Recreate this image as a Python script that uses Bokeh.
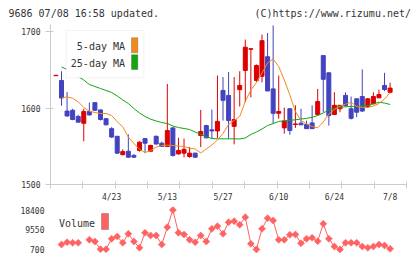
import math
from bokeh.plotting import figure
from bokeh.layouts import column
from bokeh.models import ColumnDataSource, FixedTicker, Range1d, Label, BoxAnnotation
from bokeh.core.properties import value
from bokeh.embed import file_html
from bokeh.resources import INLINE

nan = float("nan")

# ---------------- data ----------------
# trading-day slots; slot -1 is the carried-over session at the left edge
session = list(range(-1, 60))
date_ticks = [9, 19, 29, 39, 49, 59]
date_labels = ["4/23", "5/13", "5/27", "6/10", "6/24", "7/8"]
price_ticks = [1500, 1600, 1700]
volume_ticks = [700, 9550, 18400]

open_ = [1642.2,
         1636, 1596, 1597, 1589, 1580, 1595.5, 1607, 1597.5, 1586, 1573,
         1563, 1539, 1543.5, 1538, 1544.5, 1560, 1543.5, 1563, 1554, 1549.7,
         1574, 1540, 1541, 1536.6, 1541, 1564, 1577, 1571.5, 1570, 1623,
         1616.5, 1576, 1624, 1649, 1676.8, 1636, 1641.5, 1667, 1625, 1593,
         1574, 1599, 1578.4, 1580.2, 1578.5, 1580.5, 1591.5, 1668.5, 1646, 1591.5,
         1599, 1616.5, 1599, 1612, 1615, 1602, 1605.5, 1613.3, 1629.5, 1620.5]
high = [1642.8,
        1648, 1621, 1599, 1591, 1599, 1607, 1607.5, 1598, 1586.5, 1575,
        1563.5, 1546, 1565.5, 1540, 1556.5, 1560.5, 1552, 1564, 1556, 1631.5,
        1575, 1561, 1560, 1549, 1541.5, 1597.5, 1578, 1598, 1642.5, 1640.5,
        1647, 1640.5, 1648, 1689.5, 1677.6, 1657, 1696, 1698, 1708, 1642.5,
        1600.5, 1599.5, 1603.5, 1599, 1583.5, 1603.5, 1625, 1669, 1646.5, 1620.5,
        1603.8, 1620.5, 1615, 1612.5, 1650.5, 1613, 1620.5, 1624, 1646, 1633]
low = [1642.2,
       1603, 1589, 1584, 1581, 1556.5, 1590, 1596, 1583.5, 1577.5, 1561,
       1540.5, 1538, 1535, 1535, 1543, 1541, 1543, 1552, 1549, 1549,
       1536.5, 1539, 1535.5, 1535, 1535, 1549, 1560.5, 1560, 1560.5, 1583.5,
       1560, 1552.5, 1602, 1607.5, 1614, 1634, 1633.5, 1622, 1579.5, 1586,
       1566.5, 1565, 1574, 1577.8, 1572.5, 1572.5, 1590, 1594.5, 1577, 1591,
       1594.5, 1602, 1585, 1588, 1595, 1600, 1605, 1613, 1622, 1619.5]
close = [1642.8,
         1613, 1589.5, 1585, 1581.5, 1595.5, 1591, 1597, 1585, 1578, 1562,
         1541, 1543, 1535.7, 1535.7, 1555.3, 1554, 1551, 1553, 1549.7, 1570.5,
         1538, 1544.5, 1546, 1541, 1535.7, 1569.3, 1561, 1570, 1582.5, 1610,
         1583.5, 1585, 1629.5, 1679.5, 1677.5, 1655.5, 1688, 1622.3, 1593, 1595.5,
         1583, 1570.5, 1579.2, 1578, 1573, 1573, 1608.5, 1637.5, 1590, 1603.5,
         1603.5, 1603.3, 1586.5, 1594.5, 1596, 1612, 1615, 1617.5, 1624.2, 1626]
volume = [nan,
          2930, 3950, 3690, 3690, nan, 5020, 4270, 830, 830, 5470,
          6500, 3690, 7700, 4270, 1460, 8150, 6940, 6940, 2930, 10640,
          18300, 8150, 7390, 5020, 3950, 6940, 4270, 9930, 11090, 7700,
          12870, 13320, 11710, 15100, 3240, 750, 9930, 14650, 13630, 5020,
          5020, 7250, 7390, 3510, 5470, 5920, 4400, 12160, 5470, 2040,
          750, 3690, 3690, 3690, 2040, 1460, 2040, 2930, 2480, 1010]
ma5 = [nan,
       1613.1, 1614.6, 1612.7, 1608.1, 1600.7, 1595.8, 1594.1, 1592.8, 1592.8, 1590.2,
       1582.1, 1575.4, 1561.8, 1553.6, 1546.0, 1541.8, 1544.4, 1549.0, 1550.7, 1551.4,
       1551.0, 1550.1, 1549.7, 1547.5, 1546.4, 1541.2, 1546.4, 1551.6, 1558.2, 1566.7,
       1578.4, 1583.7, 1588.9, 1608.5, 1623.5, 1633.3, 1645.8, 1658.8, 1664.1, 1654.2,
       1636.6, 1617.0, 1595.4, 1583.7, 1579.1, 1575.8, 1574.1, 1581.6, 1592.2, 1598.0,
       1602.4, 1605.0, 1607.5, 1602.0, 1600.7, 1600.7, 1602.6, 1605.9, 1611.8, 1620.3]
ma25 = [nan,
        1653.6, 1650.3, 1645.8, 1641.2, 1636.6, 1630.7, 1628.1, 1625.5, 1622.9, 1620.3,
        1615.7, 1610.5, 1605.9, 1599.3, 1593.5, 1588.9, 1585.4, 1583.0, 1581.0, 1579.7,
        1576.5, 1574.5, 1573.2, 1571.9, 1568.6, 1565.4, 1562.4, 1560.1, 1559.7, 1559.7,
        1559.7, 1559.7, 1559.5, 1560.8, 1565.4, 1568.6, 1572.5, 1577.1, 1579.7, 1582.4,
        1583.3, 1583.9, 1584.6, 1585.5, 1586.5, 1587.8, 1590.2, 1593.5, 1597.4, 1599.6,
        1600.7, 1601.6, 1602.0, 1602.0, 1602.4, 1603.3, 1605.5, 1607.5, 1606.5, 1604.6]

# ---------------- style / geometry ----------------
FONT = "DejaVu Sans Mono"
TEXT = "#333333"
AXIS = "#cccccc"
UP = "#dd0000"
DOWN = "#4343c0"
MA5_COLOR = "#f08c1c"
MA25_COLOR = "#13a613"
VOL_COLOR = "#ff6262"

W = 420
HEAD_H, PRICE_H, VOL_H = 24, 182, 53
LEFT, RIGHT = 50, 14
PRICE_BOTTOM = 22
VOL_TOP, VOL_BOTTOM = 0, 5
STEP = 5.5695                       # pixels per trading day
X0 = -11 / STEP
X1 = X0 + (W - LEFT - RIGHT) / STEP
PX_PER_100 = 76.5                   # price panel: pixels per 100 yen
P0 = 1500
P1 = P0 + (PRICE_H - PRICE_BOTTOM) * 100 / PX_PER_100
PRICE_BASE_Y = HEAD_H + PRICE_H - PRICE_BOTTOM          # page row of the 1500 line
V_PER_PX = 17700 / 39.7
VOL_BASE_Y = HEAD_H + PRICE_H + VOL_H - VOL_BOTTOM      # page row of the volume frame bottom
V0 = 700 - (VOL_BASE_Y - 249) * V_PER_PX
V1 = V0 + (VOL_H - VOL_TOP - VOL_BOTTOM) * V_PER_PX


def at_x(px):
    """page column -> session coordinate"""
    return X0 + (px - LEFT) / STEP


def at_price(py):
    """page row -> price"""
    return P0 + (PRICE_BASE_Y - py) * 100 / PX_PER_100


def at_volume(py):
    """page row -> shares"""
    return V0 + (VOL_BASE_Y - py) * V_PER_PX


def bare(fig):
    fig.outline_line_color = None
    fig.grid.visible = False
    fig.background_fill_color = "white"
    fig.border_fill_color = "white"


x_range = Range1d(X0, X1)

# ---------------- header strip ----------------
h = figure(width=W, height=HEAD_H, x_range=Range1d(0, W), y_range=Range1d(HEAD_H, 0),
           output_backend="svg", toolbar_location=None, title=None,
           x_axis_location=None, y_axis_location=None, min_border=0)
h.frame_align = False
bare(h)
h.text(x=[8], y=[13], text=["9686 07/08 16:58 updated."], text_align="left",
       text_baseline="middle", text_font=value(FONT), text_font_size="10px", text_color=TEXT)
h.text(x=[410.5], y=[13], text=["(C)https://www.rizumu.net/"], text_align="right",
       text_baseline="middle", text_font=value(FONT), text_font_size="10px", text_color=TEXT)

# ---------------- price panel ----------------
candles = ColumnDataSource(dict(
    x=session, open=open_, high=high, low=low, close=close,
    top=[max(o, c) for o, c in zip(open_, close)],
    bottom=[min(o, c) for o, c in zip(open_, close)],
    color=[UP if c >= o else DOWN for o, c in zip(open_, close)],
))

p = figure(width=W, height=PRICE_H, x_range=x_range, y_range=Range1d(P0, P1),
           output_backend="svg", toolbar_location=None, title=None,
           min_border_left=LEFT, min_border_right=RIGHT,
           min_border_top=0, min_border_bottom=PRICE_BOTTOM)
bare(p)

p.segment(x0="x", y0="low", x1="x", y1="high", line_color="color", line_width=1, source=candles)
p.vbar(x="x", width=4 / STEP, top="top", bottom="bottom", fill_color="color",
       line_color="color", line_width=1, source=candles)
p.line(session, ma25, line_color=MA25_COLOR, line_width=1)
p.line(session, ma5, line_color=MA5_COLOR, line_width=1)

# axes: date labels on major ticks, evenly spaced scale marks as minor ticks
span = X1 - X0
p.xaxis.ticker = FixedTicker(ticks=date_ticks, minor_ticks=[X0 + k * span / 11 for k in range(12)])
p.xaxis.major_label_overrides = {t: s for t, s in zip(date_ticks, date_labels)}
p.xaxis.major_tick_line_color = None
p.xaxis.major_tick_in = 0
p.xaxis.major_tick_out = 0
p.xaxis.minor_tick_in = 3
p.xaxis.minor_tick_out = 4
p.xaxis.minor_tick_line_color = AXIS
p.xaxis.major_label_standoff = 4
p.yaxis.ticker = FixedTicker(ticks=price_ticks)
p.yaxis.major_tick_in = 3
p.yaxis.major_tick_out = 5
p.yaxis.major_tick_line_color = AXIS
p.yaxis.minor_tick_line_color = None
p.yaxis.major_label_standoff = 5
for ax in (p.xaxis, p.yaxis):
    ax.axis_line_color = AXIS
    ax.major_label_text_font = FONT
    ax.major_label_text_font_size = "8px"
    ax.major_label_text_color = TEXT

# legend box
p.add_layout(BoxAnnotation(left=at_x(65.7), right=at_x(143.3), top=at_price(30), bottom=at_price(77.3),
                           fill_color="white", fill_alpha=1, line_color="#d6d6d6", line_width=1))
for txt, cy, col, y_top, y_bot in (("5-day MA", 46, MA5_COLOR, 37.3, 52.3),
                                  ("25-day MA", 62.7, MA25_COLOR, 54.3, 69)):
    p.add_layout(Label(x=at_x(124.5), y=at_price(cy), text=txt, text_align="right",
                       text_baseline="middle", text_font=FONT, text_font_size="10px",
                       text_color=TEXT))
    p.add_layout(BoxAnnotation(left=at_x(131), right=at_x(137.3), top=at_price(y_top),
                               bottom=at_price(y_bot), fill_color=col, fill_alpha=1,
                               line_color="#404040", line_width=1))

# ---------------- volume panel ----------------
v = figure(width=W, height=VOL_H, x_range=x_range, y_range=Range1d(V0, V1),
           output_backend="svg", toolbar_location=None, title=None, x_axis_location=None,
           min_border_left=LEFT, min_border_right=RIGHT,
           min_border_top=VOL_TOP, min_border_bottom=VOL_BOTTOM)
bare(v)
v.line(session, volume, line_color=VOL_COLOR, line_width=1)
v.scatter(session, volume, marker="square", angle=math.pi / 4, size=5,
          fill_color=VOL_COLOR, line_color=VOL_COLOR, line_width=0.5)
v.yaxis.ticker = FixedTicker(ticks=volume_ticks)
v.yaxis.axis_line_color = None
v.yaxis.major_tick_line_color = None
v.yaxis.minor_tick_line_color = None
v.yaxis.major_tick_out = 0
v.yaxis.major_tick_in = 0
v.yaxis.major_label_standoff = 6
v.yaxis.major_label_text_font = FONT
v.yaxis.major_label_text_font_size = "8px"
v.yaxis.major_label_text_color = TEXT

v.add_layout(Label(x=at_x(94.5), y=at_volume(222.7), text="Volume", text_align="right",
                   text_baseline="middle", text_font=FONT, text_font_size="10px",
                   text_color=TEXT))
v.add_layout(BoxAnnotation(left=at_x(101), right=at_x(108), top=at_volume(213),
                           bottom=at_volume(229), fill_color=VOL_COLOR, fill_alpha=1,
                           line_color="#404040", line_width=1))

layout = column(h, p, v, spacing=0)
open("out.html", "w").write(file_html(layout, INLINE))
